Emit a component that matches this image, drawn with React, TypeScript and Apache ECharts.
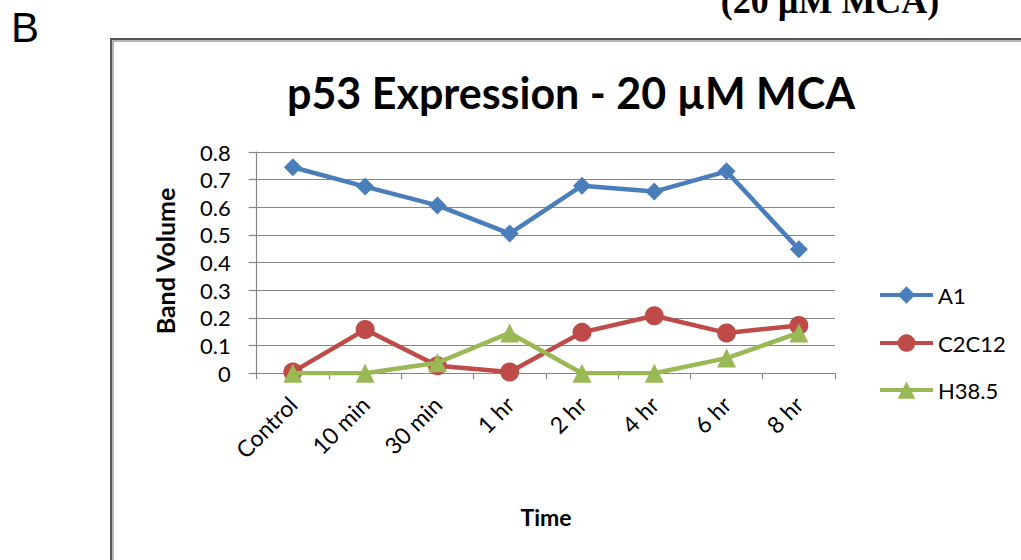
import React, { useEffect, useRef } from "react";
import * as echarts from "echarts";

const categories = ["Control", "10 min", "30 min", "1 hr", "2 hr", "4 hr", "6 hr", "8 hr"];
const seriesNames = ["A1", "C2C12", "H38.5"];
const a1Values = [0.745, 0.675, 0.607, 0.505, 0.678, 0.657, 0.73, 0.448];
const c2c12Values = [0.005, 0.158, 0.027, 0.005, 0.148, 0.208, 0.146, 0.173];
const h385Values = [0, 0, 0.038, 0.146, 0, 0, 0.055, 0.146];
const yTicks = { min: 0, max: 0.8, interval: 0.1 };

const FONT = "Lato";

export default function App() {
  const ref = useRef<HTMLDivElement>(null);
  useEffect(() => {
    if (!ref.current) return;
    const chart = echarts.init(ref.current, undefined, { renderer: "svg" });
    const colors = ["#4A7EBB", "#BE4B48", "#98B954"];
    const symbols = ["diamond", "circle", "triangle"];
    const sizes = [18, 19, 19];
    const values = [a1Values, c2c12Values, h385Values];
    const legendTops = [284, 332, 379];
    chart.setOption({
      animation: false,
      backgroundColor: "#ffffff",
      color: colors,
      textStyle: { fontFamily: FONT },
      grid: { left: 256.7, right: 186, top: 152, bottom: 186.7, containLabel: false },
      legend: seriesNames.map((n, i) => ({
        data: [n],
        left: 878,
        top: legendTops[i],
        padding: 0,
        orient: "vertical",
        itemWidth: 53,
        itemHeight: 22,
        lineStyle: { width: 4 },
        textStyle: { fontFamily: FONT, fontSize: 22, color: "#000" },
        selectedMode: false,
      })),
      xAxis: {
        type: "category",
        data: categories,
        boundaryGap: true,
        axisLine: { show: true, lineStyle: { color: "#868686", width: 1.2 } },
        axisTick: { show: true, alignWithLabel: false, length: 6, lineStyle: { color: "#868686", width: 1.2 } },
        axisLabel: { rotate: 45, margin: 27, fontFamily: FONT, fontSize: 23, color: "#000", interval: 0 },
        splitLine: { show: false },
      },
      yAxis: {
        type: "value",
        min: yTicks.min,
        max: yTicks.max,
        interval: yTicks.interval,
        axisLine: { show: true, lineStyle: { color: "#868686", width: 1.2 } },
        axisTick: { show: true, length: 8, lineStyle: { color: "#868686", width: 1.2 } },
        axisLabel: {
          margin: 26,
          fontFamily: FONT,
          fontSize: 22,
          color: "#000",
          formatter: (v: number) => (v === 0 ? "0" : v.toFixed(1)),
        },
        splitLine: { show: true, lineStyle: { color: "#868686", width: 1.2 } },
      },
      series: seriesNames.map((n, i) => ({
        name: n,
        type: "line",
        data: values[i],
        symbol: symbols[i],
        symbolSize: sizes[i],
        showSymbol: true,
        lineStyle: { width: 4.5, color: colors[i] },
        itemStyle: { color: colors[i] },
        z: 2 + i,
      })),
      graphic: [
        {
          type: "rect",
          shape: { x: 111, y: 39, width: 1000, height: 600 },
          style: { fill: "none", stroke: "#555555", lineWidth: 2 },
          silent: true,
        },
        {
          type: "rect",
          shape: { x: 113, y: 41, width: 1000, height: 600 },
          style: { fill: "none", stroke: "#b4b4b4", lineWidth: 2 },
          silent: true,
        },
        {
          type: "text",
          x: 11,
          y: 27,
          style: { text: "B", font: "42px 'Liberation Sans'", fill: "#000", textAlign: "left", textVerticalAlign: "middle" },
        },
        {
          type: "text",
          x: 830,
          y: 1,
          style: {
            text: "(20 µM MCA)",
            font: "bold 36px 'Liberation Serif'",
            fill: "#000",
            textAlign: "center",
            textVerticalAlign: "middle",
          },
        },
        {
          type: "text",
          x: 571,
          y: 92,
          style: {
            text: "p53 Expression - 20 µM MCA",
            font: `bold 43px ${FONT}`,
            fill: "#000",
            textAlign: "center",
            textVerticalAlign: "middle",
          },
        },
        {
          type: "text",
          x: 165,
          y: 261,
          rotation: Math.PI / 2,
          style: {
            text: "Band Volume",
            font: `bold 25px ${FONT}`,
            fill: "#000",
            textAlign: "center",
            textVerticalAlign: "middle",
          },
        },
        {
          type: "text",
          x: 546,
          y: 517,
          style: {
            text: "Time",
            font: `bold 23px ${FONT}`,
            fill: "#000",
            textAlign: "center",
            textVerticalAlign: "middle",
          },
        },
      ],
    });
    return () => chart.dispose();
  }, []);
  return (
    <div
      ref={ref}
      style={{ position: "absolute", left: 0, top: 0, width: 1021, height: 560, background: "#fff" }}
    />
  );
}
